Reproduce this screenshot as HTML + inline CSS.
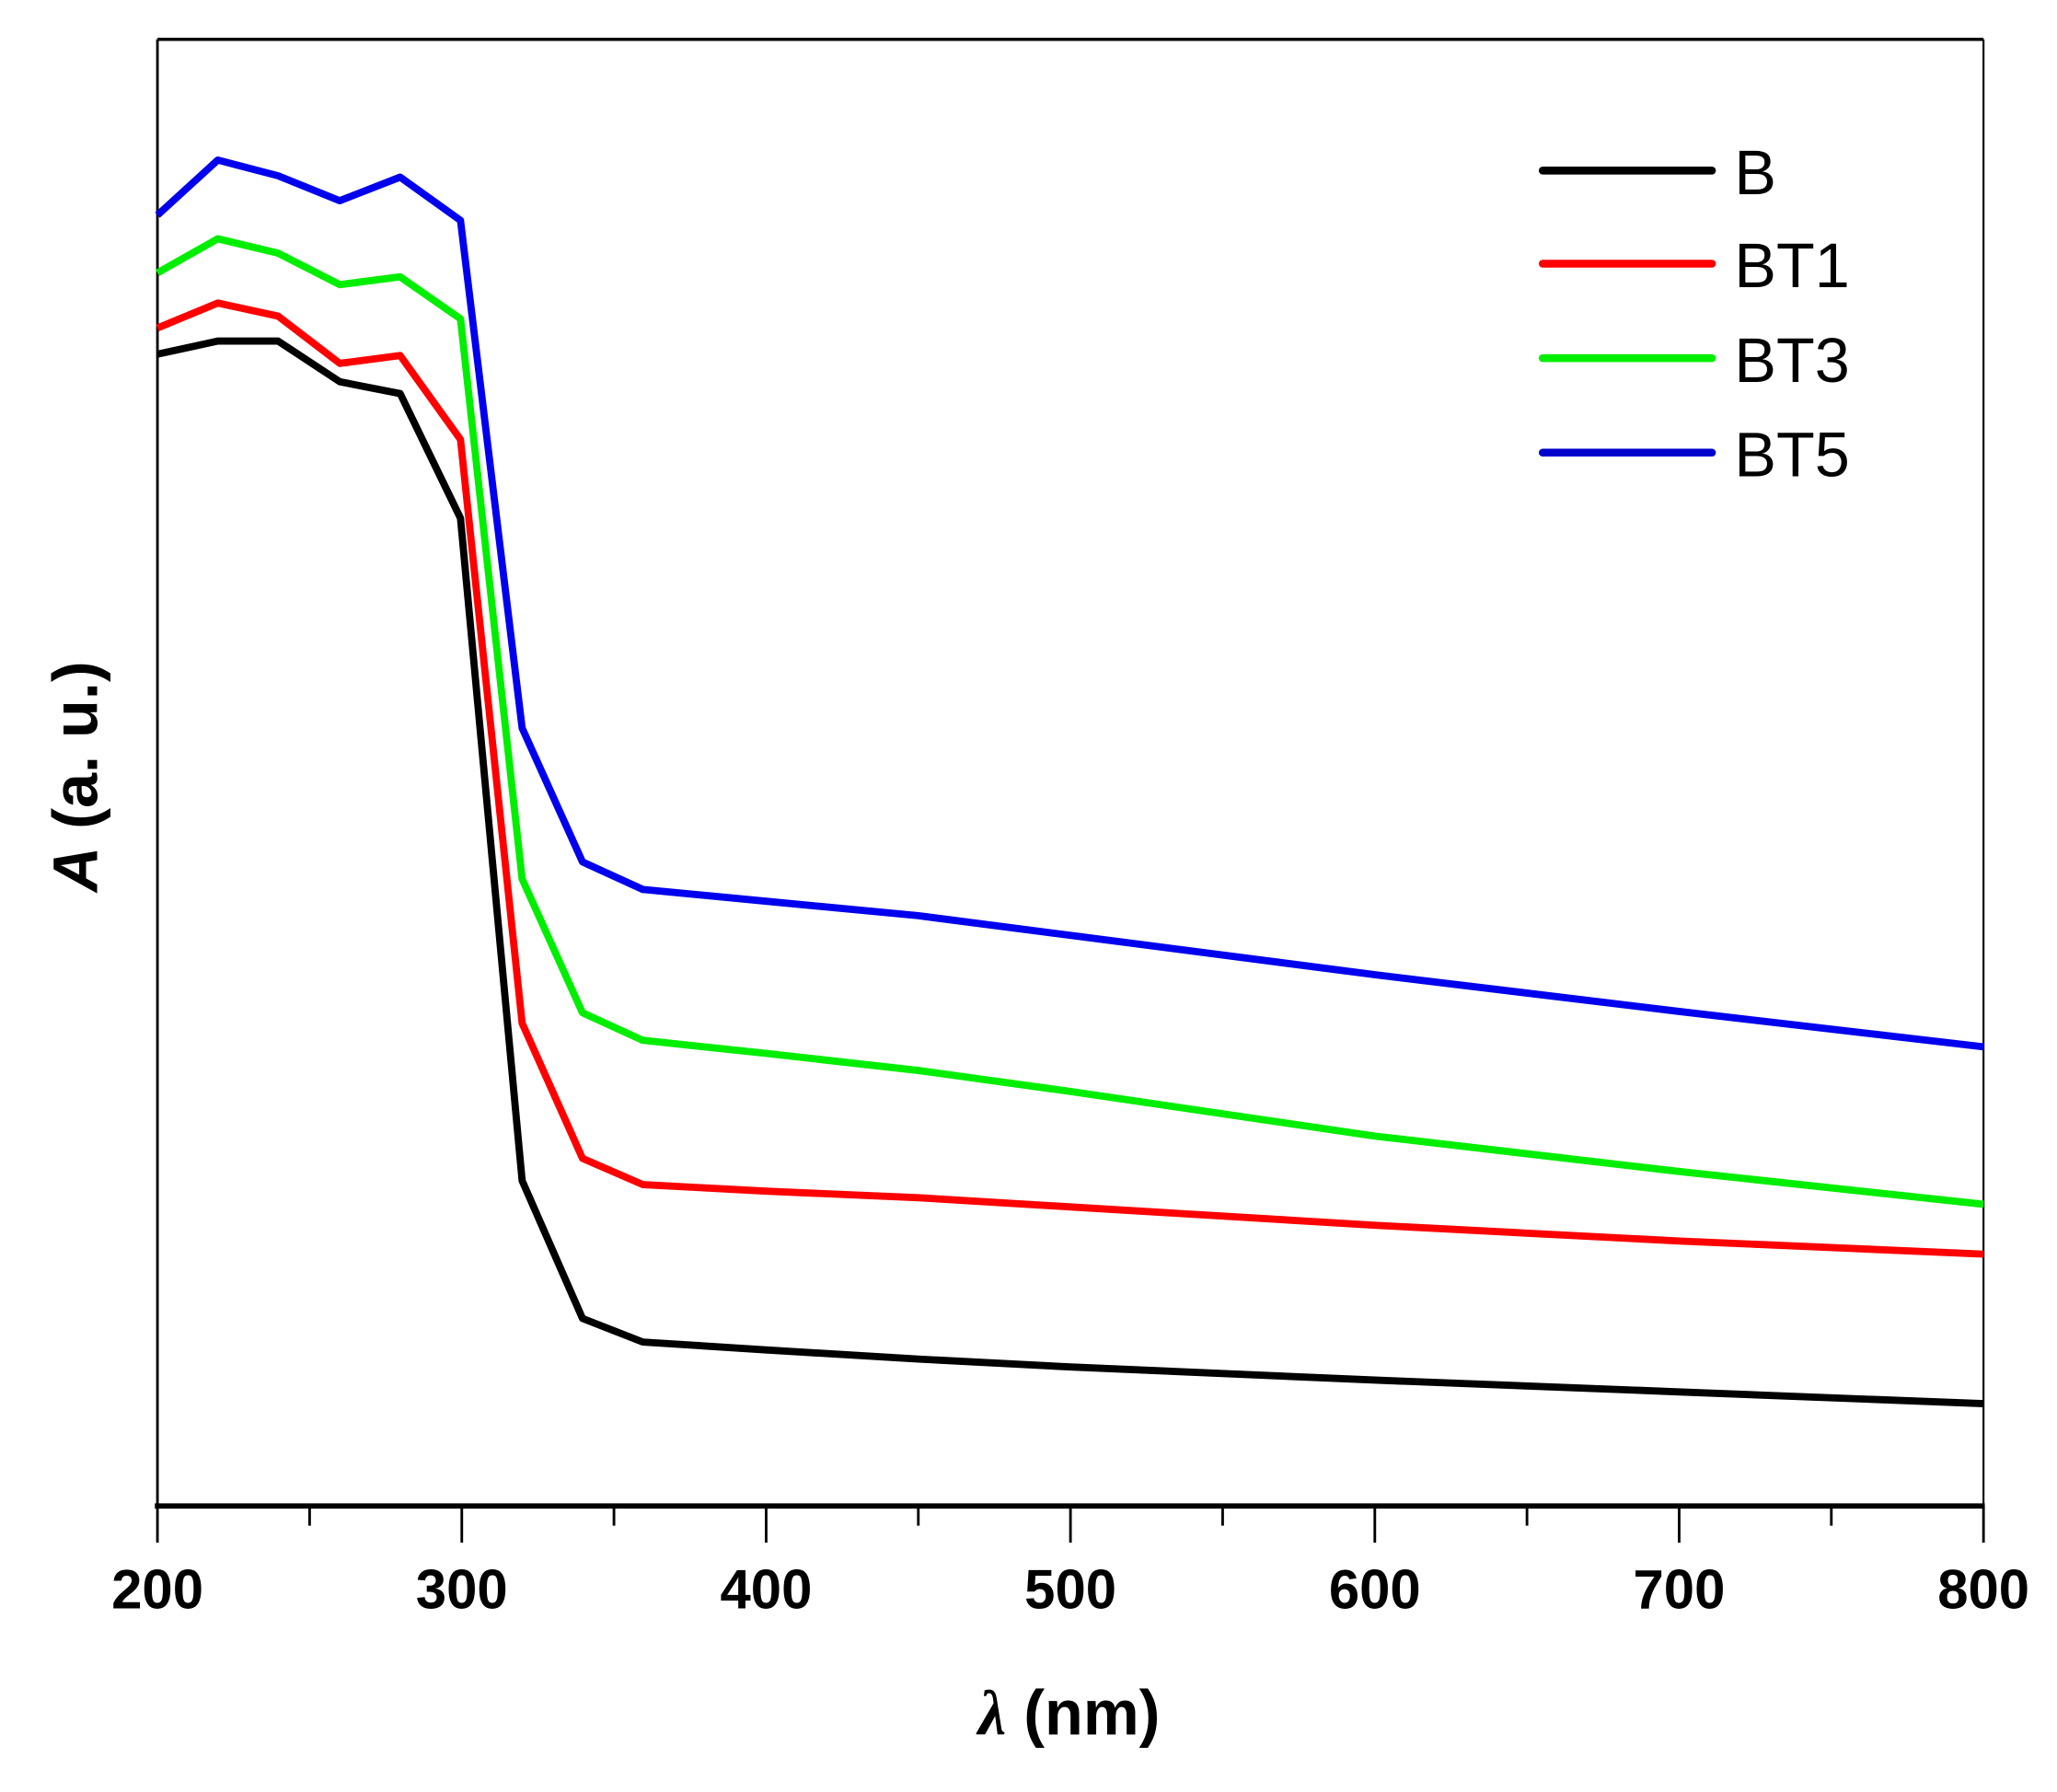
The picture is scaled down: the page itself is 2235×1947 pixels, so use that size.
<!DOCTYPE html>
<html><head><meta charset="utf-8"><style>html,body{margin:0;padding:0;background:#fff}svg{display:block}</style></head>
<body>
<svg width="2235" height="1947" viewBox="0 0 1568 1366" xmlns="http://www.w3.org/2000/svg" font-family="Liberation Sans, Arial, sans-serif">
<rect width="1568" height="1366" fill="#fff"/>
<g stroke="#000" fill="none">
<line x1="120" y1="30" x2="1512" y2="30" stroke-width="2.5"/>
<line x1="120" y1="30" x2="120" y2="1149" stroke-width="2"/>
<line x1="1512" y1="30" x2="1512" y2="1149" stroke-width="1.5"/>
<line x1="118" y1="1148" x2="1513" y2="1148" stroke-width="4"/>
<path d="M120 1148V1176M352 1148V1176M584 1148V1176M816 1148V1176M1048 1148V1176M1280 1148V1176M1512 1148V1176" stroke-width="2"/>
<path d="M236 1148V1163M468 1148V1163M700 1148V1163M932 1148V1163M1164 1148V1163M1396 1148V1163" stroke-width="2"/>
</g>
<g font-size="42" font-weight="bold" text-anchor="middle" fill="#000">
<text x="120" y="1226">200</text><text x="352" y="1226">300</text><text x="584" y="1226">400</text><text x="816" y="1226">500</text><text x="1048" y="1226">600</text><text x="1280" y="1226">700</text><text x="1512" y="1226">800</text>
</g>
<text x="815" y="1322" font-size="48" font-weight="bold" text-anchor="middle"><tspan font-style="italic" font-family="Liberation Serif, serif">λ</tspan> (nm)</text>
<text transform="translate(74,592) rotate(-90)" font-size="48" font-weight="bold" text-anchor="middle"><tspan font-style="italic">A</tspan> (a. u.)</text>
<g fill="none" stroke-width="5.5" stroke-linejoin="round">
<polyline stroke="#000" points="120,270 166,260 212,260 259,291 305,300 351,395 398,900 444,1005 490,1023 584,1029 700,1036 816,1042 1048,1052 1280,1061 1512,1070"/>
<polyline stroke="#ff0000" points="120,250 166,231 212,241 259,277 305,271 351,335 398,780 444,883 490,903 584,908 700,913 816,920 1048,934 1280,946 1512,956"/>
<polyline stroke="#00ee00" points="120,208 166,182 212,193 259,217 305,211 351,243 398,670 444,772 490,793 584,803 700,816 816,832 1048,866 1280,893 1512,918"/>
<polyline stroke="#0000ee" points="120,164 166,122 212,134 259,153 305,135 351,168 398,555 444,657 490,678 584,687 700,698 816,713 1048,743 1280,771 1512,798"/>
</g>
<g stroke-width="6" stroke-linecap="round">
<line x1="1176" y1="130" x2="1305" y2="130" stroke="#000"/>
<line x1="1176" y1="201" x2="1305" y2="201" stroke="#ff0000"/>
<line x1="1176" y1="273" x2="1305" y2="273" stroke="#00ee00"/>
<line x1="1176" y1="345" x2="1305" y2="345" stroke="#0000cc"/>
</g>
<g font-size="48" fill="#000">
<text x="1322" y="148">B</text><text x="1322" y="219">BT1</text><text x="1322" y="291">BT3</text><text x="1322" y="363">BT5</text>
</g>
</svg>
</body></html>
